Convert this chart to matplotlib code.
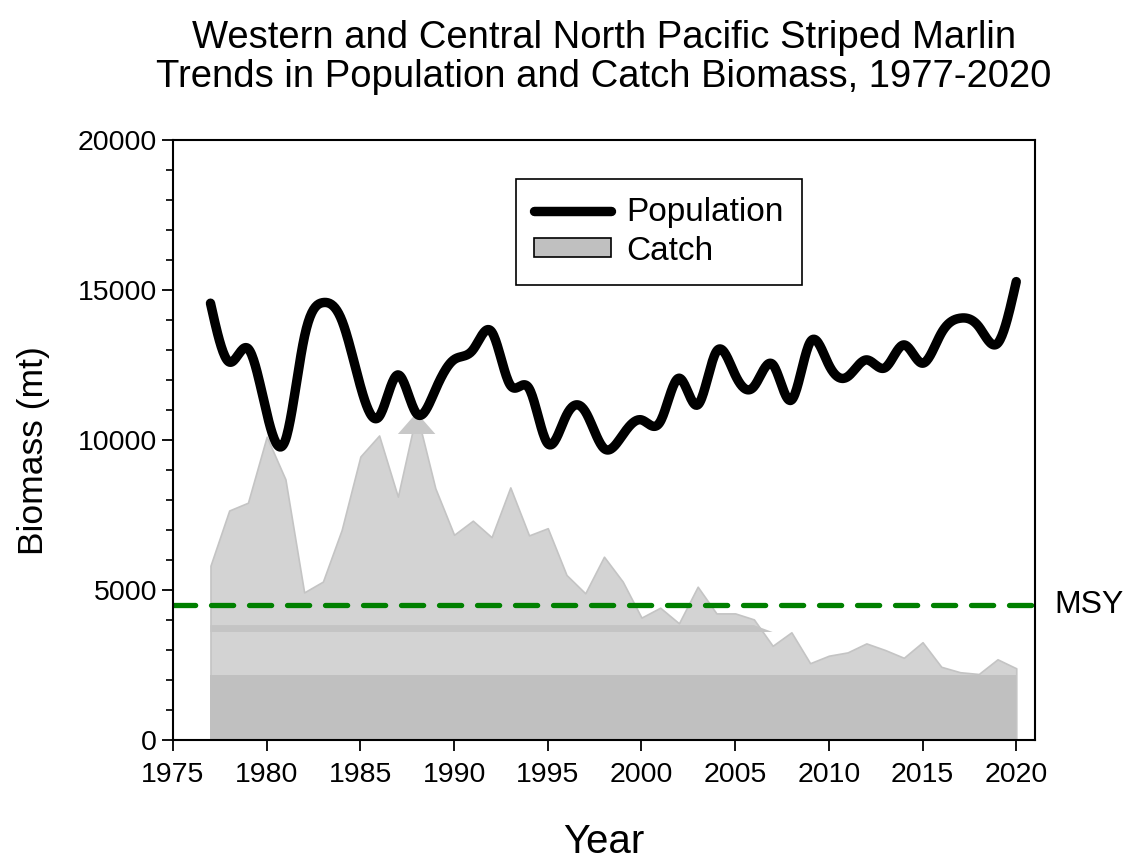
import numpy as np
import matplotlib
matplotlib.use("Agg")
import matplotlib.pyplot as plt
from matplotlib.patches import Patch
from matplotlib.lines import Line2D

plt.rcParams['font.family'] = ['Liberation Sans', 'DejaVu Sans']

years = list(range(1977, 2021))
population = [14560, 12600, 13050, 10900, 10000, 13400, 14580, 14000, 11800, 10780,
              12170, 10880, 11670, 12680, 13000, 13610, 11830, 11720, 9880, 10830,
              10950, 9720, 10170, 10670, 10610, 12060, 11170, 12950, 12170, 11780,
              12520, 11330, 13260, 12500, 12110, 12670, 12410, 13170, 12560, 13560,
              14060, 13780, 13220, 15280]
catch = [5810, 7650, 7910, 10110, 8690, 4920, 5280, 7000, 9450, 10150,
         8110, 10910, 8390, 6840, 7310, 6760, 8420, 6820, 7060, 5500,
         4890, 6110, 5280, 4080, 4410, 3890, 5110, 4220, 4220, 4020,
         3140, 3590, 2560, 2810, 2920, 3220, 3000, 2740, 3260, 2440,
         2260, 2200, 2690, 2390]
msy = 4500
band_levels = [(0, 2170), (3600, 3830), (10200, 20000)]

x_ticks = list(range(1975, 2021, 5))
y_ticks = list(range(0, 20001, 5000))


def natural_spline(x, y, xs):
    x = np.asarray(x, float)
    y = np.asarray(y, float)
    n = len(x)
    h = np.diff(x)
    A = np.zeros((n, n))
    b = np.zeros(n)
    A[0, 0] = 1
    A[-1, -1] = 1
    for i in range(1, n - 1):
        A[i, i - 1] = h[i - 1]
        A[i, i] = 2 * (h[i - 1] + h[i])
        A[i, i + 1] = h[i]
        b[i] = 3 * ((y[i + 1] - y[i]) / h[i] - (y[i] - y[i - 1]) / h[i - 1])
    c = np.linalg.solve(A, b)
    bb = (y[1:] - y[:-1]) / h - h * (2 * c[:-1] + c[1:]) / 3
    d = (c[1:] - c[:-1]) / (3 * h)
    idx = np.clip(np.searchsorted(x, xs) - 1, 0, n - 2)
    dx = xs - x[idx]
    return y[idx] + bb[idx] * dx + c[idx] * dx ** 2 + d[idx] * dx ** 3


fig = plt.figure(figsize=(11.3, 8.59), dpi=100)
ax = fig.add_axes([173 / 1130, 119 / 859, 862 / 1130, 600 / 859])

yrs = np.array(years, float)
cat = np.array(catch, float)

# catch area
ax.fill_between(yrs, 0, cat, facecolor='#d3d3d3', edgecolor='#c4c4c4', linewidth=1.2, zorder=1)
# darker banding inside the area
lo, hi = band_levels[0]
ax.fill_between(yrs, lo, np.minimum(cat, hi), facecolor='#c0c0c0', edgecolor='none',
                linewidth=0, zorder=1.1)
for (lo, hi), col in zip(band_levels[1:], ['#c4c4c4', '#c8c8c8']):
    ax.fill_between(yrs, lo, np.clip(cat, lo, hi), where=cat > lo, interpolate=True,
                    facecolor=col, edgecolor='none', linewidth=0, zorder=1.1)

# MSY line
msy_line = ax.axhline(msy, color='#008000', linewidth=3.8, solid_capstyle='round',
                      dash_capstyle='round', zorder=2)
msy_line.set_dashes((4.2, 3.0))
ax.text(1.023, msy, 'MSY', transform=ax.get_yaxis_transform(), fontsize=23,
        va='center', ha='left')

# population line (smoothed)
xs = np.linspace(yrs[0], yrs[-1], 900)
ax.plot(xs, natural_spline(yrs, population, xs), color='black', linewidth=6.8,
        solid_capstyle='round', solid_joinstyle='round', zorder=3)

ax.set_xlim(1975, 2021)
ax.set_ylim(0, 20000)
ax.set_xticks(x_ticks)
ax.set_yticks(y_ticks)
ax.set_yticks(list(range(0, 20001, 1000)), minor=True)
ax.tick_params(axis='both', which='major', direction='out', length=8, width=1.3,
               labelsize=20.5)
ax.tick_params(axis='y', which='minor', direction='out', length=5, width=1.2)
ax.tick_params(axis='x', pad=8)
for s in ax.spines.values():
    s.set_linewidth(1.5)

ax.set_xlabel('Year', fontsize=29, labelpad=25)
ax.set_ylabel('Biomass (mt)', fontsize=25.5)
ax.yaxis.set_label_coords(-0.1427, 0.482)

fig.suptitle('Western and Central North Pacific Striped Marlin\n'
             'Trends in Population and Catch Biomass, 1977-2020',
             x=604 / 1130, y=1 - 20 / 859, fontsize=27.5, va='top', linespacing=1.12)

handles = [Line2D([0], [0], color='black', linewidth=6.8, solid_capstyle='round'),
           Patch(facecolor='#c0c0c0', edgecolor='black', linewidth=1.2)]
leg = ax.legend(handles, ['Population', 'Catch'], loc='upper left',
                bbox_to_anchor=((516 - 173) / 862, (740 - 179) / 600),
                fontsize=24, frameon=True, fancybox=False, framealpha=1,
                edgecolor='black', handlelength=2.3, handleheight=0.5,
                borderpad=0.55, labelspacing=0.22, handletextpad=0.45,
                borderaxespad=0)
leg.get_frame().set_linewidth(1.2)

fig.savefig('out.png', dpi=100)
